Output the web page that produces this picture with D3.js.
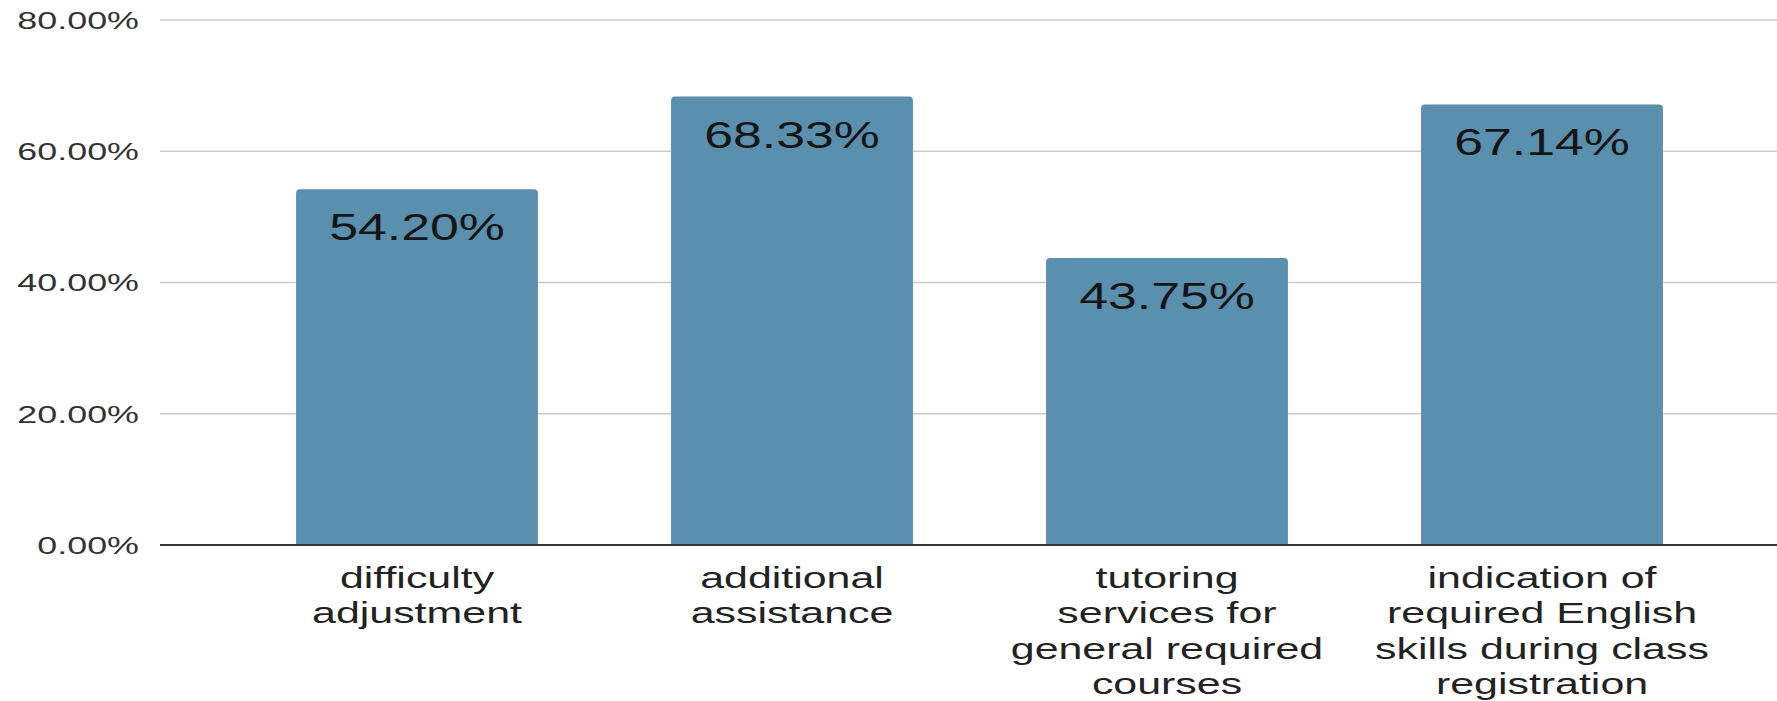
<!DOCTYPE html>
<html>
<head>
<meta charset="utf-8">
<script src="https://cdn.jsdelivr.net/npm/d3@7/dist/d3.min.js"></script>
<style>
  html, body { margin: 0; padding: 0; background: #ffffff; }
  svg { display: block; }
  text { font-family: "Liberation Sans", Arial, Helvetica, sans-serif; }
</style>
</head>
<body>
<svg id="chart" width="1777" height="701"></svg>
<script>
// Survey results: share of respondents per support measure
const categories = [
  "difficulty adjustment",
  "additional assistance",
  "tutoring services for general required courses",
  "indication of required English skills during class registration"
];
const categoryLines = [
  ["difficulty", "adjustment"],
  ["additional", "assistance"],
  ["tutoring", "services for", "general required", "courses"],
  ["indication of", "required English", "skills during class", "registration"]
];
const values = [0.5420, 0.6833, 0.4375, 0.6714];
const yTicks = [0, 0.2, 0.4, 0.6, 0.8];

const W = 1777, H = 701;
const plotLeft = 160, plotRight = W;
const plotTop = 20, plotBottom = 545;

const svg = d3.select("#chart");

const x = d3.scaleBand()
  .domain(categories)
  .range([229.5, 1729.5])
  .paddingInner(0.355)
  .paddingOuter(0.1775);

const y = d3.scaleLinear()
  .domain([0, 0.8])
  .range([plotBottom, plotTop]);

const pct = d3.format(".2%");

// horizontal gridlines
svg.append("g")
  .attr("class", "grid")
  .selectAll("line")
  .data(yTicks.filter(d => d > 0))
  .join("line")
  .attr("x1", plotLeft)
  .attr("x2", plotRight)
  .attr("y1", d => y(d))
  .attr("y2", d => y(d))
  .attr("stroke", "#cccccc")
  .attr("stroke-width", 1.6);

// y axis labels (stretched horizontally like the rest of the typography)
const tickSX = 1.56, tickFS = 23;
const yAxis = svg.append("g")
  .attr("transform", `translate(${plotLeft},0)`)
  .call(d3.axisLeft(y).tickValues(yTicks).tickSize(0).tickFormat(pct));
yAxis.select(".domain").remove();
yAxis.selectAll(".tick text")
  .attr("x", null)
  .attr("dy", null)
  .attr("y", 0)
  .attr("transform", `translate(-21,${tickFS * 0.36}) scale(${tickSX},1)`)
  .attr("text-anchor", "end")
  .attr("fill", "#333333")
  .style("font-size", tickFS + "px")
  .style("font-family", '"Liberation Sans", Arial, sans-serif');

// bars with rounded top corners
function barPath(x0, w, yTop, yBase, r) {
  return `M${x0},${yBase}` +
    `L${x0},${yTop + r}` +
    `Q${x0},${yTop} ${x0 + r},${yTop}` +
    `L${x0 + w - r},${yTop}` +
    `Q${x0 + w},${yTop} ${x0 + w},${yTop + r}` +
    `L${x0 + w},${yBase}Z`;
}

const data = categories.map((c, i) => ({ c, v: values[i], lines: categoryLines[i] }));

svg.append("g")
  .selectAll("path")
  .data(data)
  .join("path")
  .attr("d", d => barPath(x(d.c), x.bandwidth(), y(d.v), y(0), 4))
  .attr("fill", "#5a8fad");

// baseline
svg.append("line")
  .attr("x1", plotLeft)
  .attr("x2", plotRight)
  .attr("y1", y(0))
  .attr("y2", y(0))
  .attr("stroke", "#3a3a3a")
  .attr("stroke-width", 2);

// value labels inside the bars
const valSX = 1.40, valFS = 37;
svg.append("g")
  .selectAll("text")
  .data(data)
  .join("text")
  .attr("transform", d => `translate(${x(d.c) + x.bandwidth() / 2},${y(d.v) + 51}) scale(${valSX},1)`)
  .attr("text-anchor", "middle")
  .attr("fill", "#151515")
  .style("font-size", valFS + "px")
  .text(d => pct(d.v));

// category labels, wrapped onto several lines
const catSX = 1.48, catFS = 29, lineStep = 35.5;
const catG = svg.append("g")
  .selectAll("g")
  .data(data)
  .join("g")
  .attr("transform", d => `translate(${x(d.c) + x.bandwidth() / 2},588) scale(${catSX},1)`);
catG.selectAll("text")
  .data(d => d.lines)
  .join("text")
  .attr("y", (d, i) => i * lineStep)
  .attr("text-anchor", "middle")
  .attr("fill", "#222222")
  .style("font-size", catFS + "px")
  .text(d => d);
</script>
</body>
</html>
